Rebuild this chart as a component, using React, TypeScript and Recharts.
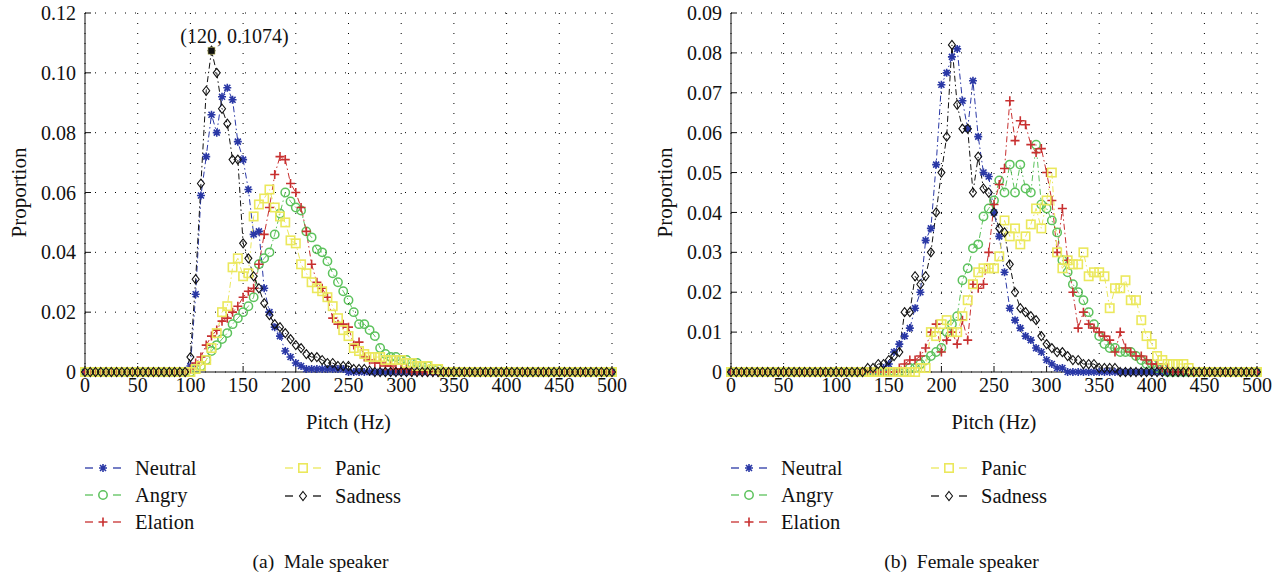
import React from 'react';
import { LineChart, Line, XAxis, YAxis, CartesianGrid, ReferenceDot } from 'recharts';

// pitch bins (Hz), 5 Hz apart
const pitch = [
  0, 5, 10, 15, 20, 25, 30, 35, 40, 45, 50, 55, 60, 65, 70, 75, 80, 85, 90, 95,
  100, 105, 110, 115, 120, 125, 130, 135, 140, 145, 150, 155, 160, 165, 170, 175, 180, 185, 190, 195,
  200, 205, 210, 215, 220, 225, 230, 235, 240, 245, 250, 255, 260, 265, 270, 275, 280, 285, 290, 295,
  300, 305, 310, 315, 320, 325, 330, 335, 340, 345, 350, 355, 360, 365, 370, 375, 380, 385, 390, 395,
  400, 405, 410, 415, 420, 425, 430, 435, 440, 445, 450, 455, 460, 465, 470, 475, 480, 485, 490, 495,
  500,
];

const xTicks = [0, 50, 100, 150, 200, 250, 300, 350, 400, 450, 500];
const maleYTicks = [0, 0.02, 0.04, 0.06, 0.08, 0.1, 0.12];
const femaleYTicks = [0, 0.01, 0.02, 0.03, 0.04, 0.05, 0.06, 0.07, 0.08, 0.09];

// ---- male speaker ----
const maleNeutral = [
  0, 0, 0, 0, 0, 0, 0, 0, 0, 0,
  0, 0, 0, 0, 0, 0, 0, 0, 0, 0,
  0.002, 0.026, 0.059, 0.072, 0.086, 0.080, 0.092, 0.095, 0.091, 0.077,
  0.071, 0.061, 0.046, 0.047, 0.028, 0.020, 0.015, 0.012, 0.007, 0.005,
  0.003, 0.002, 0.001, 0.001, 0.001, 0.001, 0.001, 0.001, 0.001, 0.001,
  0, 0, 0, 0, 0, 0, 0, 0, 0, 0,
  0, 0, 0, 0, 0, 0, 0, 0, 0, 0,
  0, 0, 0, 0, 0, 0, 0, 0, 0, 0,
  0, 0, 0, 0, 0, 0, 0, 0, 0, 0,
  0, 0, 0, 0, 0, 0, 0, 0, 0, 0,
  0,
];
const maleAngry = [
  0, 0, 0, 0, 0, 0, 0, 0, 0, 0,
  0, 0, 0, 0, 0, 0, 0, 0, 0, 0,
  0, 0.001, 0.002, 0.004, 0.007, 0.009, 0.011, 0.013, 0.016, 0.018,
  0.020, 0.022, 0.025, 0.036, 0.038, 0.040, 0.046, 0.053, 0.060, 0.057,
  0.055, 0.054, 0.047, 0.045, 0.041, 0.040, 0.037, 0.033, 0.030, 0.027,
  0.024, 0.020, 0.016, 0.016, 0.014, 0.012, 0.008, 0.006, 0.005, 0.005,
  0.004, 0.004, 0.003, 0.003, 0.002, 0.002, 0.001, 0.001, 0, 0,
  0, 0, 0, 0, 0, 0, 0, 0, 0, 0,
  0, 0, 0, 0, 0, 0, 0, 0, 0, 0,
  0, 0, 0, 0, 0, 0, 0, 0, 0, 0,
  0,
];
const maleElation = [
  0, 0, 0, 0, 0, 0, 0, 0, 0, 0,
  0, 0, 0, 0, 0, 0, 0, 0, 0, 0,
  0.001, 0.003, 0.005, 0.009, 0.012, 0.014, 0.017, 0.018, 0.020, 0.022,
  0.025, 0.027, 0.028, 0.036, 0.046, 0.055, 0.066, 0.072, 0.071, 0.063,
  0.060, 0.055, 0.047, 0.036, 0.030, 0.028, 0.025, 0.018, 0.016, 0.016,
  0.015, 0.009, 0.010, 0.005, 0.004, 0.003, 0.003, 0.002, 0.002, 0.001,
  0.001, 0.001, 0, 0, 0, 0, 0, 0, 0, 0,
  0, 0, 0, 0, 0, 0, 0, 0, 0, 0,
  0, 0, 0, 0, 0, 0, 0, 0, 0, 0,
  0, 0, 0, 0, 0, 0, 0, 0, 0, 0,
  0,
];
const malePanic = [
  0, 0, 0, 0, 0, 0, 0, 0, 0, 0,
  0, 0, 0, 0, 0, 0, 0, 0, 0, 0,
  0, 0.001, 0.002, 0.004, 0.008, 0.013, 0.020, 0.022, 0.035, 0.038,
  0.032, 0.033, 0.052, 0.056, 0.058, 0.061, 0.055, 0.052, 0.050, 0.044,
  0.043, 0.036, 0.033, 0.030, 0.028, 0.027, 0.025, 0.022, 0.018, 0.014,
  0.012, 0.008, 0.007, 0.006, 0.005, 0.005, 0.005, 0.004, 0.004, 0.004,
  0.004, 0.003, 0.003, 0.002, 0.002, 0.002, 0.001, 0.001, 0, 0,
  0, 0, 0, 0, 0, 0, 0, 0, 0, 0,
  0, 0, 0, 0, 0, 0, 0, 0, 0, 0,
  0, 0, 0, 0, 0, 0, 0, 0, 0, 0,
  0,
];
const maleSadness = [
  0, 0, 0, 0, 0, 0, 0, 0, 0, 0,
  0, 0, 0, 0, 0, 0, 0, 0, 0, 0,
  0.005, 0.031, 0.063, 0.094, 0.1074, 0.100, 0.088, 0.083, 0.071, 0.071,
  0.043, 0.038, 0.032, 0.028, 0.023, 0.019, 0.016, 0.015, 0.013, 0.011,
  0.009, 0.008, 0.006, 0.005, 0.005, 0.004, 0.003, 0.003, 0.002, 0.002,
  0.002, 0.001, 0.001, 0.001, 0.0005, 0, 0, 0, 0, 0,
  0, 0, 0, 0, 0, 0, 0, 0, 0, 0,
  0, 0, 0, 0, 0, 0, 0, 0, 0, 0,
  0, 0, 0, 0, 0, 0, 0, 0, 0, 0,
  0, 0, 0, 0, 0, 0, 0, 0, 0, 0,
  0,
];

// ---- female speaker ----
const femaleNeutral = [
  0, 0, 0, 0, 0, 0, 0, 0, 0, 0,
  0, 0, 0, 0, 0, 0, 0, 0, 0, 0,
  0, 0, 0, 0, 0, 0, 0, 0, 0, 0.001,
  0.002, 0.005, 0.007, 0.009, 0.011, 0.016, 0.020, 0.033, 0.036, 0.052,
  0.072, 0.075, 0.079, 0.081, 0.068, 0.061, 0.073, 0.059, 0.050, 0.049,
  0.040, 0.034, 0.025, 0.016, 0.013, 0.011, 0.009, 0.008, 0.006, 0.005,
  0.003, 0.002, 0.001, 0.001, 0, 0, 0, 0, 0, 0,
  0, 0, 0, 0, 0, 0, 0, 0, 0, 0,
  0, 0, 0, 0, 0, 0, 0, 0, 0, 0,
  0, 0, 0, 0, 0, 0, 0, 0, 0, 0,
  0,
];
const femaleAngry = [
  0, 0, 0, 0, 0, 0, 0, 0, 0, 0,
  0, 0, 0, 0, 0, 0, 0, 0, 0, 0,
  0, 0, 0, 0, 0, 0, 0, 0, 0, 0,
  0, 0, 0, 0, 0.001, 0.001, 0.002, 0.003, 0.004, 0.005,
  0.006, 0.010, 0.012, 0.014, 0.023, 0.026, 0.031, 0.032, 0.039, 0.041,
  0.043, 0.048, 0.045, 0.052, 0.045, 0.052, 0.046, 0.045, 0.057, 0.042,
  0.041, 0.038, 0.035, 0.028, 0.025, 0.022, 0.020, 0.018, 0.015, 0.012,
  0.009, 0.007, 0.006, 0.006, 0.005, 0.005, 0.005, 0.004, 0.003, 0.002,
  0.002, 0.001, 0.001, 0, 0, 0, 0, 0, 0, 0,
  0, 0, 0, 0, 0, 0, 0, 0, 0, 0,
  0,
];
const femaleElation = [
  0, 0, 0, 0, 0, 0, 0, 0, 0, 0,
  0, 0, 0, 0, 0, 0, 0, 0, 0, 0,
  0, 0, 0, 0, 0, 0, 0, 0, 0, 0,
  0, 0, 0.001, 0.002, 0.003, 0.003, 0.004, 0.006, 0.010, 0.012,
  0.005, 0.008, 0.010, 0.007, 0.013, 0.008, 0.022, 0.021, 0.022, 0.030,
  0.042, 0.047, 0.051, 0.068, 0.058, 0.063, 0.062, 0.057, 0.055, 0.056,
  0.050, 0.043, 0.030, 0.041, 0.028, 0.020, 0.011, 0.015, 0.012, 0.011,
  0.010, 0.009, 0.008, 0.005, 0.010, 0.006, 0.005, 0.004, 0.004, 0.003,
  0.002, 0.002, 0.001, 0.001, 0, 0, 0, 0, 0, 0,
  0, 0, 0, 0, 0, 0, 0, 0, 0, 0,
  0,
];
const femalePanic = [
  0, 0, 0, 0, 0, 0, 0, 0, 0, 0,
  0, 0, 0, 0, 0, 0, 0, 0, 0, 0,
  0, 0, 0, 0, 0, 0, 0, 0, 0, 0,
  0, 0, 0, 0, 0, 0, 0.001, 0.001, 0.010, 0.009,
  0.012, 0.013, 0.010, 0.010, 0.014, 0.018, 0.022, 0.025, 0.026, 0.026,
  0.026, 0.029, 0.038, 0.034, 0.036, 0.032, 0.034, 0.037, 0.041, 0.036,
  0.043, 0.050, 0.030, 0.026, 0.028, 0.027, 0.027, 0.030, 0.024, 0.025,
  0.025, 0.024, 0.016, 0.021, 0.021, 0.023, 0.018, 0.018, 0.013, 0.009,
  0.007, 0.004, 0.003, 0.002, 0.002, 0.002, 0.002, 0.001, 0, 0,
  0, 0, 0, 0, 0, 0, 0, 0, 0, 0,
  0,
];
const femaleSadness = [
  0, 0, 0, 0, 0, 0, 0, 0, 0, 0,
  0, 0, 0, 0, 0, 0, 0, 0, 0, 0,
  0, 0, 0, 0, 0, 0, 0.001, 0.001, 0.002, 0.002,
  0.003, 0.004, 0.005, 0.015, 0.015, 0.024, 0.022, 0.024, 0.030, 0.040,
  0.050, 0.059, 0.082, 0.067, 0.061, 0.061, 0.045, 0.054, 0.046, 0.045,
  0.040, 0.036, 0.035, 0.027, 0.020, 0.016, 0.015, 0.014, 0.013, 0.009,
  0.007, 0.006, 0.005, 0.005, 0.004, 0.003, 0.003, 0.002, 0.002, 0.002,
  0.001, 0.001, 0.001, 0.001, 0, 0, 0, 0, 0, 0,
  0, 0, 0, 0, 0, 0, 0, 0, 0, 0,
  0, 0, 0, 0, 0, 0, 0, 0, 0, 0,
  0,
];

const FONT = '"Liberation Serif", "DejaVu Serif", "Noto Serif", Times, serif';

const series = [
  { key: 'neutral', name: 'Neutral', color: '#2a38a6', marker: 'star' },
  { key: 'angry', name: 'Angry', color: '#5cc25c', marker: 'circle' },
  { key: 'elation', name: 'Elation', color: '#c83030', marker: 'plus' },
  { key: 'panic', name: 'Panic', color: '#ebe85c', marker: 'square' },
  { key: 'sadness', name: 'Sadness', color: '#111111', marker: 'diamond' },
];

function Marker({ kind, cx, cy, color }: { kind: string; cx: number; cy: number; color: string }) {
  if (kind === 'star') {
    return (
      <path
        d={`M${cx},${cy - 4}V${cy + 4}M${cx - 4},${cy}H${cx + 4}M${cx - 3},${cy - 3}L${cx + 3},${cy + 3}M${cx - 3},${cy + 3}L${cx + 3},${cy - 3}`}
        stroke={color}
        strokeWidth={1.6}
        fill="none"
      />
    );
  }
  if (kind === 'circle') return <circle cx={cx} cy={cy} r={4.2} stroke={color} strokeWidth={1.5} fill="none" />;
  if (kind === 'plus') {
    return <path d={`M${cx},${cy - 4.5}V${cy + 4.5}M${cx - 4.5},${cy}H${cx + 4.5}`} stroke={color} strokeWidth={1.6} fill="none" />;
  }
  if (kind === 'square') return <rect x={cx - 4.2} y={cy - 4.2} width={8.4} height={8.4} stroke={color} strokeWidth={1.6} fill="none" />;
  return (
    <path d={`M${cx},${cy - 4.5}L${cx + 3.5},${cy}L${cx},${cy + 4.5}L${cx - 3.5},${cy}Z`} stroke={color} strokeWidth={1.1} fill="none" />
  );
}

const fmtY = (v: number) => (v === 0 ? '0' : v.toFixed(2));
const blank = () => '';
const tickStyle = { fill: '#111', fontSize: 20, fontFamily: FONT };

function Legend({ plotLeft }: { plotLeft: number }) {
  const rows = [
    { s: series[0], x: 0, y: 468 },
    { s: series[1], x: 0, y: 495 },
    { s: series[2], x: 0, y: 522 },
    { s: series[3], x: 200, y: 468 },
    { s: series[4], x: 200, y: 496 },
  ];
  return (
    <>
      {rows.map(({ s, x, y }) => (
        <div key={s.key} style={{ position: 'absolute', left: plotLeft + x, top: y - 12, height: 24, display: 'flex', alignItems: 'center' }}>
          <svg width={36} height={24}>
            <line x1={0} y1={12} x2={8} y2={12} stroke={s.color} strokeWidth={1.3} />
            <line x1={28} y1={12} x2={36} y2={12} stroke={s.color} strokeWidth={1.3} />
            <Marker kind={s.marker} cx={18} cy={12} color={s.color} />
          </svg>
          <span style={{ marginLeft: 14, fontFamily: FONT, fontSize: 20.5, color: '#111' }}>{s.name}</span>
        </div>
      ))}
    </>
  );
}

function Panel({ left, plotLeft, plotRight, rows, yMax, yTicks, caption, annotate }: any) {
  return (
    <div style={{ position: 'absolute', left, top: 0, width: 641, height: 577 }}>
      <LineChart width={641} height={440} data={rows} margin={{ top: 13, right: 641 - plotRight, bottom: 8, left: 0 }}>
        <CartesianGrid stroke="#000" strokeDasharray="1 9" strokeWidth={1} />
        <XAxis
          dataKey="pitch"
          type="number"
          domain={[0, 500]}
          ticks={xTicks}
          height={60}
          tickSize={-6}
          tickMargin={12}
          axisLine={{ stroke: '#111' }}
          tickLine={{ stroke: '#111' }}
          tick={tickStyle}
          label={{
            value: 'Pitch (Hz)',
            content: ({ viewBox }: any) => (
              <text x={viewBox.x + viewBox.width / 2} y={viewBox.y + 57} textAnchor="middle" fontFamily={FONT} fontSize={20.5} fill="#111">
                Pitch (Hz)
              </text>
            ),
          }}
        />
        <XAxis xAxisId="top" orientation="top" dataKey="pitch" type="number" domain={[0, 500]} ticks={xTicks} height={0} tickSize={-6} tickFormatter={blank} axisLine={{ stroke: '#111' }} tickLine={{ stroke: '#111' }} />
        <YAxis
          type="number"
          domain={[0, yMax]}
          ticks={yTicks}
          width={plotLeft}
          tickSize={-6}
          tickMargin={15}
          tickFormatter={fmtY}
          axisLine={{ stroke: '#111' }}
          tickLine={{ stroke: '#111' }}
          tick={tickStyle}
          label={{
            value: 'Proportion',
            content: ({ viewBox }: any) => {
              const x = viewBox.x + viewBox.width - 66;
              const y = viewBox.y + viewBox.height / 2;
              return (
                <text x={x} y={y} transform={`rotate(-90 ${x} ${y})`} textAnchor="middle" dominantBaseline="central" fontFamily={FONT} fontSize={21} fill="#111">
                  Proportion
                </text>
              );
            },
          }}
        />
        <YAxis yAxisId="right" orientation="right" type="number" domain={[0, yMax]} ticks={yTicks} width={0} tickSize={-6} tickFormatter={blank} axisLine={{ stroke: '#111' }} tickLine={{ stroke: '#111' }} />
        {series.map((s) => (
          <Line
            key={s.key}
            dataKey={s.key}
            type="linear"
            stroke={s.color}
            strokeWidth={1}
            strokeDasharray="6 3 1.5 3"
            isAnimationActive={false}
            activeDot={false}
            dot={(p: any) =>
              p.cx == null || isNaN(p.cx) ? <g key={p.index} /> : <Marker key={p.index} kind={s.marker} cx={p.cx} cy={p.cy} color={s.color} />
            }
          />
        ))}
        {annotate && (
          <ReferenceDot
            x={annotate.x}
            y={annotate.y}
            r={4}
            shape={(p: any) => <rect x={p.cx - 3.5} y={p.cy - 3.5} width={7} height={7} fill="#111" stroke="#c9c46a" strokeWidth={0.6} />}
            label={{
              value: annotate.text,
              content: ({ viewBox }: any) => (
                <text x={viewBox.x + viewBox.width / 2 + 23} y={viewBox.y - 4} textAnchor="middle" fontFamily={FONT} fontSize={20} fill="#111">
                  {annotate.text}
                </text>
              ),
            }}
          />
        )}
      </LineChart>
      <Legend plotLeft={plotLeft} />
      <div style={{ position: 'absolute', left: 0, width: 641, top: 551, textAlign: 'center', fontFamily: FONT, fontSize: 19.5, color: '#111' }}>
        {caption}
      </div>
    </div>
  );
}

export default function App() {
  const maleRows = pitch.map((p, i) => ({
    pitch: p,
    neutral: maleNeutral[i],
    angry: maleAngry[i],
    elation: maleElation[i],
    panic: malePanic[i],
    sadness: maleSadness[i],
  }));
  const femaleRows = pitch.map((p, i) => ({
    pitch: p,
    neutral: femaleNeutral[i],
    angry: femaleAngry[i],
    elation: femaleElation[i],
    panic: femalePanic[i],
    sadness: femaleSadness[i],
  }));
  return (
    <div style={{ position: 'fixed', left: 0, top: 0, width: 1282, height: 577, background: '#fff', overflow: 'hidden' }}>
      <Panel
        left={0}
        plotLeft={85}
        plotRight={612}
        rows={maleRows}
        yMax={0.12}
        yTicks={maleYTicks}
        caption={'(a)\u2002Male speaker'}
        annotate={{ x: 120, y: 0.1074, text: '(120, 0.1074)' }}
      />
      <Panel
        left={641}
        plotLeft={90}
        plotRight={616}
        rows={femaleRows}
        yMax={0.09}
        yTicks={femaleYTicks}
        caption={'(b)\u2002Female speaker'}
      />
    </div>
  );
}
